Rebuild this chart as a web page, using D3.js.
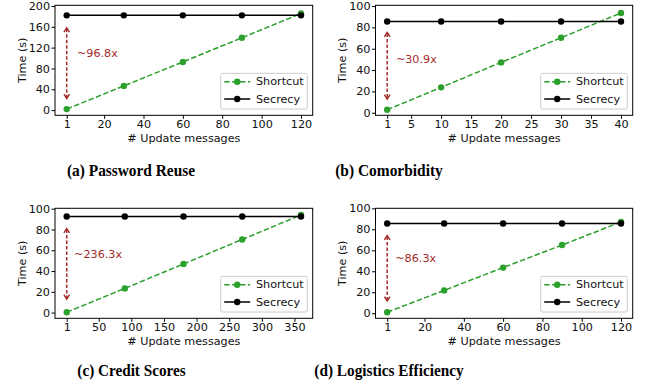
<!DOCTYPE html>
<html><head><meta charset="utf-8">
<script src="https://cdn.jsdelivr.net/npm/d3@7"></script>
<style>
body{margin:0;background:#fff}
svg{display:block}
</style>
</head><body>
<svg id="chart" width="652" height="389"></svg>
<script>
// ---------- data ----------
const captions = ["(a) Password Reuse", "(b) Comorbidity", "(c) Credit Scores", "(d) Logistics Efficiency"];
const seriesNames = ["Shortcut", "Secrecy"];

const updatesA = [1, 30, 60, 90, 120];
const shortcutA = [1.88, 46.5, 92.5, 139, 185.5];
const secrecyA = [182, 182, 182, 182, 182];

const updatesB = [1, 10, 20, 30, 40];
const shortcutB = [2.77, 23.8, 47.2, 70.3, 93.5];
const secrecyB = [85.5, 85.5, 85.5, 85.5, 85.5];

const updatesC = [1, 90, 180, 270, 360];
const shortcutC = [0.39, 23.3, 46.8, 70.4, 94];
const secrecyC = [92.5, 92.5, 92.5, 92.5, 92.5];

const updatesD = [1, 30, 60, 90, 120];
const shortcutD = [0.99, 21.8, 43.5, 65, 87];
const secrecyD = [85.5, 85.5, 85.5, 85.5, 85.5];

const xTicksA = [1, 20, 40, 60, 80, 100, 120];
const xTicksB = [1, 5, 10, 15, 20, 25, 30, 35, 40];
const xTicksC = [1, 50, 100, 150, 200, 250, 300, 350];
const xTicksD = [1, 20, 40, 60, 80, 100, 120];
const yTicksA = [0, 40, 80, 120, 160, 200];
const yTicksB = [0, 20, 40, 60, 80, 100];
const yTicksC = [0, 20, 40, 60, 80, 100];
const yTicksD = [0, 20, 40, 60, 80, 100];

const speedupLabels = ["~96.8x", "~30.9x", "~236.3x", "~86.3x"];
const arrowTop = [158, 75.3, 81, 74];
const arrowBottom = [22, 12.8, 13, 11.7];
const labelX = [6.2, 2.45, 12.2, 5.1];
const labelY = [109.6, 50, 56.4, 51.7];

const xAxisTitle = "# Update messages";
const yAxisTitle = "Time (s)";

// ---------- layout ----------
const svg = d3.select("#chart");
const FONT = "'DejaVu Sans', sans-serif";
const FS = 11.2;
const GREEN = "#2ca02c";
const RED = "#a52a2a";

const cols = [[55, 312.7], [375.5, 632.7]];
const rows = [[5.3, 115.3], [208.3, 318.3]];
const yDomains = [[-10, 201.3], [-2.4, 100.7], [-5.5, 100.4], [-4.8, 100]];
const captionPos = [[131, 175.5], [389, 175.5], [131.5, 376], [389, 376]];
const captionWidth = [128, 107.7, 108.3, 149.3];

const panels = [
  {x: updatesA, s: shortcutA, q: secrecyA, xt: xTicksA, yt: yTicksA},
  {x: updatesB, s: shortcutB, q: secrecyB, xt: xTicksB, yt: yTicksB},
  {x: updatesC, s: shortcutC, q: secrecyC, xt: xTicksC, yt: yTicksC},
  {x: updatesD, s: shortcutD, q: secrecyD, xt: xTicksD, yt: yTicksD}
];

panels.forEach((p, i) => {
  const [x0, x1] = cols[i % 2];
  const [y0, y1] = rows[Math.floor(i / 2)];
  const xmin = d3.min(p.x), xmax = d3.max(p.x), pad = (xmax - xmin) * 0.05;
  const x = d3.scaleLinear().domain([xmin - pad, xmax + pad]).range([x0, x1]);
  const y = d3.scaleLinear().domain(yDomains[i]).range([y1, y0]);
  const g = svg.append("g");

  // axes
  const xa = g.append("g").attr("transform", `translate(0,${y1})`)
    .call(d3.axisBottom(x).tickValues(p.xt).tickSize(3.5).tickPadding(1.5).tickFormat(d3.format("d")));
  const ya = g.append("g").attr("transform", `translate(${x0},0)`)
    .call(d3.axisLeft(y).tickValues(p.yt).tickSize(3.5).tickPadding(1.5).tickFormat(d3.format("d")));
  [xa, ya].forEach(a => {
    a.select(".domain").remove();
    a.selectAll("line").attr("stroke", "#000").attr("stroke-width", 1);
    a.selectAll("text").attr("font-family", FONT).attr("font-size", FS).attr("fill", "#111");
  });

  // frame
  g.append("rect").attr("x", x0).attr("y", y0).attr("width", x1 - x0).attr("height", y1 - y0)
    .attr("fill", "none").attr("stroke", "#000").attr("stroke-width", 1);

  // axis titles
  g.append("text").attr("x", (x0 + x1) / 2).attr("y", y1 + 27).attr("text-anchor", "middle")
    .attr("font-family", FONT).attr("font-size", FS).attr("fill", "#111").text(xAxisTitle);
  g.append("text").attr("transform", `translate(${x0 - 33},${(y0 + y1) / 2}) rotate(-90)`)
    .attr("text-anchor", "middle").attr("dominant-baseline", "central")
    .attr("font-family", FONT).attr("font-size", FS).attr("fill", "#111").text(yAxisTitle);

  // arrow annotation
  const ax = x(p.x[0]);
  const ta = y(arrowTop[i]), tb = y(arrowBottom[i]);
  g.append("line").attr("x1", ax).attr("x2", ax).attr("y1", ta + 1).attr("y2", tb - 1)
    .attr("stroke", RED).attr("stroke-width", 1.5).attr("stroke-dasharray", "3.5,2");
  const hw = 2.8, hl = 4.4;
  g.append("path").attr("d", `M${ax - hw},${ta + hl}L${ax},${ta}L${ax + hw},${ta + hl}`)
    .attr("fill", "none").attr("stroke", RED).attr("stroke-width", 1.4);
  g.append("path").attr("d", `M${ax - hw},${tb - hl}L${ax},${tb}L${ax + hw},${tb - hl}`)
    .attr("fill", "none").attr("stroke", RED).attr("stroke-width", 1.4);
  g.append("text").attr("x", x(labelX[i])).attr("y", y(labelY[i])).attr("dominant-baseline", "central")
    .attr("font-family", FONT).attr("font-size", FS).attr("fill", RED).text(speedupLabels[i]);

  // series
  const line = d3.line().x(d => x(d[0])).y(d => y(d[1]));
  const sData = p.x.map((v, k) => [v, p.s[k]]);
  const qData = p.x.map((v, k) => [v, p.q[k]]);
  g.append("path").datum(sData).attr("d", line).attr("fill", "none").attr("stroke", GREEN)
    .attr("stroke-width", 1.5).attr("stroke-dasharray", "5.5,2.4");
  g.selectAll(".sd").data(sData).enter().append("circle")
    .attr("cx", d => x(d[0])).attr("cy", d => y(d[1])).attr("r", 3.2).attr("fill", GREEN);
  g.append("path").datum(qData).attr("d", line).attr("fill", "none").attr("stroke", "#000")
    .attr("stroke-width", 1.5);
  g.selectAll(".qd").data(qData).enter().append("circle")
    .attr("cx", d => x(d[0])).attr("cy", d => y(d[1])).attr("r", 3.2).attr("fill", "#000");

  // legend
  const lw = 86.6, lh = 35.7;
  const lx = x1 - 5.4 - lw, ly = y1 - 6.3 - lh;
  const lg = g.append("g");
  lg.append("rect").attr("x", lx).attr("y", ly).attr("width", lw).attr("height", lh).attr("rx", 2)
    .attr("fill", "#fff").attr("fill-opacity", 0.8).attr("stroke", "#cccccc").attr("stroke-width", 1);
  const styles = [{c: GREEN, dash: "5.5,2.4"}, {c: "#000", dash: null}];
  seriesNames.forEach((name, k) => {
    const cy = ly + 8.4 + k * 17.3;
    const l = lg.append("line").attr("x1", lx + 3.5).attr("x2", lx + 29.5).attr("y1", cy).attr("y2", cy)
      .attr("stroke", styles[k].c).attr("stroke-width", 1.5);
    if (styles[k].dash) l.attr("stroke-dasharray", styles[k].dash);
    lg.append("circle").attr("cx", lx + 16.5).attr("cy", cy).attr("r", 3.2).attr("fill", styles[k].c);
    lg.append("text").attr("x", lx + 35.3).attr("y", cy).attr("dominant-baseline", "central")
      .attr("font-family", FONT).attr("font-size", FS).attr("fill", "#111").text(name);
  });

  // caption
  svg.append("text").attr("x", captionPos[i][0]).attr("y", captionPos[i][1]).attr("text-anchor", "middle")
    .attr("font-family", "'Liberation Serif', serif").attr("font-weight", "bold").attr("font-size", 17)
    .attr("textLength", captionWidth[i]).attr("lengthAdjust", "spacingAndGlyphs")
    .attr("fill", "#000").text(captions[i]);
});
</script>
</body></html>
